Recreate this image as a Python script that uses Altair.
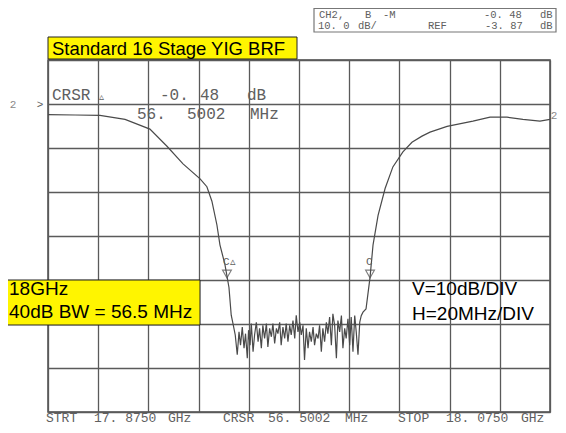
import altair as alt
import pandas as pd

START_GHZ = 17.875
STOP_GHZ = 18.075

# Trace readings: frequency offset from start (MHz) and level relative to the reference line (dB)
left_mhz = [0, 10.8, 20.7, 30.7, 40.6, 47.4, 53.8, 60.6, 63.3, 65.3, 67.3, 68.5, 70.5, 72.1]
left_db = [-2.4, -2.5, -2.6, -3.5, -5.7, -9.6, -13.6, -17.0, -18.8, -22.1, -27.5, -32.0, -36.5, -41.7]

stop_mhz = [73.0, 73.7, 74.6, 75.4, 76.1, 76.7, 77.4, 78.1, 78.7, 79.4, 79.9, 80.5, 81.0, 81.7,
            82.3, 83.0, 83.7, 84.3, 85.0, 85.6, 86.3, 87.0, 87.6, 88.3, 89.0, 89.6, 90.3, 91.0,
            91.6, 92.3, 92.9, 93.6, 94.3, 94.9, 95.6, 96.3, 96.9, 97.6, 98.3, 98.9, 99.6, 100.3,
            100.9, 101.6, 102.2, 102.9, 103.6, 104.2, 104.9, 105.6, 106.2, 106.9, 107.6, 108.2,
            108.9, 109.5, 110.2, 110.9, 111.5, 112.2, 112.9, 113.5, 114.2, 114.9, 115.5, 116.2,
            116.9, 117.5, 118.2, 118.8, 119.5, 120.2, 120.8, 121.5, 122.2, 122.8, 123.5, 124.2,
            124.8, 125.5]
stop_db = [-48.0, -49.9, -52.5, -57.0, -51.8, -54.8, -50.7, -55.5, -52.2, -57.8, -51.4, -54.8, -49.9, -56.3,
           -52.5, -49.6, -54.0, -51.0, -55.5, -50.3, -53.3, -49.9, -55.2, -51.0, -52.9, -49.9, -54.4, -51.0,
           -52.2, -49.6, -54.8, -50.7, -53.3, -49.9, -54.0, -50.3, -52.5, -49.2, -53.3, -48.0, -51.8, -49.6,
           -52.5, -50.3, -58.2, -51.0, -55.5, -51.8, -54.0, -50.7, -54.8, -52.2, -53.3, -50.3,
           -56.3, -51.0, -54.0, -49.6, -52.2, -48.4, -54.8, -47.7, -50.3, -57.8, -49.2, -51.8,
           -48.1, -55.5, -51.0, -53.3, -48.8, -54.8, -48.4, -56.3, -48.1, -51.8, -57.0, -49.6,
           -48.1, -47.3]

right_mhz = [126.7, 128.3, 129.5, 131.5, 134.3, 137.4, 141.4, 145.0, 149.0, 152.2, 159.0, 169.3,
             176.1, 182.9, 189.2, 196.0, 200.0]
right_db = [-46.6, -39.4, -32.0, -25.3, -19.2, -14.3, -10.9, -8.7, -7.3, -6.4, -5.1, -3.9,
            -3.0, -3.0, -3.5, -3.9, -3.5]

marker_mhz = [71.3, 128.3]
marker_db = [-40.0, -40.0]
marker_text = ["C\u25b5", "C"]

x_ticks = [START_GHZ + 0.02 * i for i in range(11)]
y_ticks = list(range(-70, 11, 10))

mhz = left_mhz + stop_mhz + right_mhz
db = left_db + stop_db + right_db
trace = pd.DataFrame({"ghz": [START_GHZ + m / 1000 for m in mhz], "db": db})
markers = pd.DataFrame({"ghz": [START_GHZ + m / 1000 for m in marker_mhz], "db": marker_db,
                        "t": marker_text})

GRID = "#5a5a5a"
INK = "#606060"
MONO = "Liberation Mono"
SANS = "Liberation Sans"

xenc = alt.X("ghz:Q", scale=alt.Scale(domain=[START_GHZ, STOP_GHZ], nice=False, zero=False),
             axis=alt.Axis(values=x_ticks, grid=True, labels=False, ticks=False, domain=False,
                           title=None, gridColor=GRID, gridWidth=1.3, gridOpacity=1))
yenc = alt.Y("db:Q", scale=alt.Scale(domain=[-70, 10], nice=False, zero=False),
             axis=alt.Axis(values=y_ticks, grid=True, labels=False, ticks=False, domain=False,
                           title=None, gridColor=GRID, gridWidth=1.3, gridOpacity=1))

line = alt.Chart(trace).mark_line(color="#4a4a4a", strokeWidth=1.2, clip=True).encode(x=xenc, y=yenc)

tri = alt.Chart(markers).mark_point(shape="triangle-down", size=80, filled=False, color="#4a4a4a",
                                    strokeWidth=1.1, yOffset=-6).encode(x="ghz:Q", y="db:Q")
tri_lbl = alt.Chart(markers).mark_text(font=MONO, fontSize=11, color=INK, align="left",
                                       baseline="alphabetic", dx=-4, dy=-15).encode(
    x="ghz:Q", y="db:Q", text="t:N")

one = alt.Data(values=[{}])


def label(text, x, y, size, font=MONO, color=INK, align="left", baseline="alphabetic", angle=0):
    return alt.Chart(one).mark_text(text=text, font=font, fontSize=size, color=color, align=align,
                                    baseline=baseline, angle=angle).encode(
        x=alt.value(x), y=alt.value(y))


def box(x1, y1, x2, y2, fill, stroke, width=1.0):
    return alt.Chart(one).mark_rect(fill=fill, stroke=stroke, strokeWidth=width).encode(
        x=alt.value(x1), x2=alt.value(x2), y=alt.value(y1), y2=alt.value(y2))


HS = 10.5   # header readout font size
CS = 16     # cursor readout font size
BS = 13     # bottom readout font size
BY = 362    # bottom readout baseline
layers = [
    line, tri, tri_lbl,
    # header box (instrument state)
    box(266, -51.5, 508, -28, "white", "#777777", 1.2),
    label("CH2,", 271, -42, HS), label("B", 317, -42, HS), label("-M", 335, -42, HS),
    label("-0. 48", 436, -42, HS), label("dB", 492, -42, HS),
    label("10. 0", 270, -31, HS), label("dB/", 310, -31, HS), label("REF", 380, -31, HS),
    label("-3. 87", 437, -31, HS), label("dB", 492, -31, HS),
    # title
    box(0, -23, 249, -1, "#FFF500", "#222222", 1.0),
    label("Standard 16 Stage YIG BRF", 4, -5, 18.5, font=SANS, color="black"),
    # reference markers
    label("2", -35, 45, 11, color="#888888", align="center", baseline="middle"),
    label(">", -8, 45, 11, color=INK, align="center", baseline="middle"),
    label("2", 506, 56, 11, color="#888888", align="center", baseline="middle"),
    # cursor readout
    label("CRSR", 4, 40, CS), label("\u25b5", 51, 40, 10),
    label("-0.", 112, 40, CS), label("48", 152, 40, CS), label("dB", 199, 40, CS),
    label("56.", 89, 59, CS), label("5002", 139, 59, CS), label("MHz", 202, 59, CS),
    # annotation box
    box(-41, 220, 152, 265, "#FFF500", "#222222", 1.0),
    label("18GHz", -39, 235, 19, font=SANS, color="black"),
    label("40dB BW = 56.5 MHz", -39, 258, 19, font=SANS, color="black"),
    label("V=10dB/DIV", 364, 235, 19, font=SANS, color="black"),
    label("H=20MHz/DIV", 364, 260, 19, font=SANS, color="black"),
    # bottom readout
    label("STRT", -2, BY, BS), label("17. 8750", 46, BY, BS), label("GHz", 120, BY, BS),
    label("CRSR", 175, BY, BS), label("56. 5002", 220, BY, BS), label("MHz", 297, BY, BS),
    label("STOP", 350, BY, BS), label("18. 0750", 398, BY, BS), label("GHz", 473, BY, BS),
]

chart = alt.layer(*layers).properties(
    width=502, height=352, autosize="none",
    padding={"left": 40, "top": 52, "right": 8, "bottom": 13},
    background="white",
).configure_view(stroke="#4a4a4a", strokeWidth=1.5)

chart.save("out.html", embed_options={"renderer": "svg", "actions": False})
